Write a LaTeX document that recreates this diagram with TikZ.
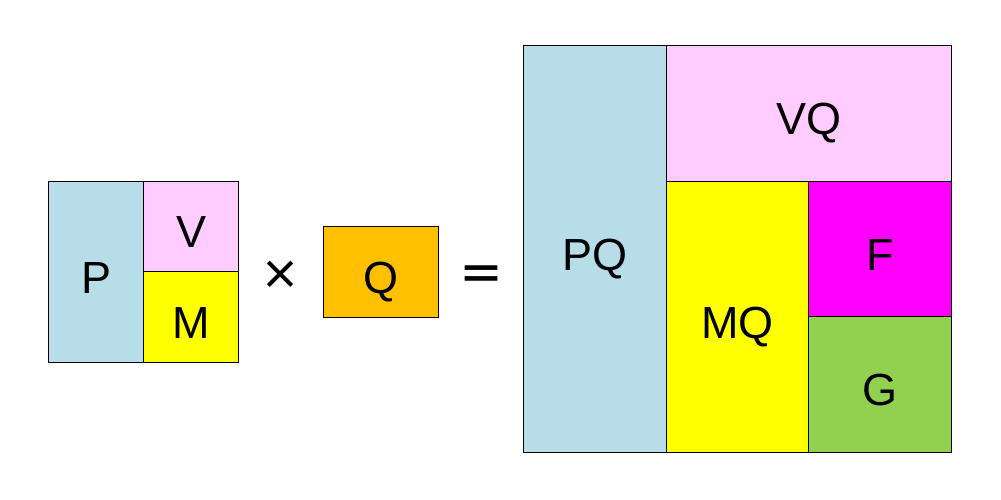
\documentclass[tikz,border=0pt]{standalone}
\usepackage{fontspec}
\setmainfont{Liberation Sans}
\newfontfamily\cjk{Noto Sans CJK JP}[BoldFont={* Bold}]
\definecolor{cblue}{HTML}{B7DEE8}
\definecolor{cpink}{HTML}{FFCCFF}
\definecolor{cyel}{HTML}{FFFF00}
\definecolor{corange}{HTML}{FFC000}
\definecolor{cmag}{HTML}{FF00FF}
\definecolor{cgreen}{HTML}{92D050}
\begin{document}
\begin{tikzpicture}[x=1pt,y=-1pt,
  cell/.style={draw=black,line width=1.1pt,inner sep=0pt,anchor=north west,
    text height=44pt,text depth=2pt,
    font=\fontsize{45}{45}\selectfont},
  sym/.style={inner sep=0pt,font=\fontsize{40}{40}\selectfont\cjk\bfseries}]
\useasboundingbox[fill=white] (0,0) rectangle (1001,499);
% left block
\node[cell,fill=cblue,minimum width=95pt,minimum height=181pt] (P) at (48,181) {P};
\node[cell,fill=cpink,minimum width=95pt,minimum height=90pt] (V) at (143,181) {V};
\node[cell,fill=cyel,minimum width=95pt,minimum height=91pt] (M) at (143,271) {M};
% operator and Q
\node[sym] (times) at (280,275) {×};
\node[cell,fill=corange,minimum width=115pt,minimum height=91pt] (Q) at (323,226) {Q};
\node[sym,font=\fontsize{46}{46}\selectfont\cjk\bfseries] (eq) at (481,279) {＝};
% right block
\node[cell,fill=cblue,minimum width=143pt,minimum height=407pt] (PQ) at (523,45) {PQ};
\node[cell,fill=cpink,minimum width=285pt,minimum height=136pt] (VQ) at (666,45) {VQ};
\node[cell,fill=cyel,minimum width=142pt,minimum height=271pt] (MQ) at (666,181) {MQ};
\node[cell,fill=cmag,minimum width=143pt,minimum height=135pt] (F) at (808,181) {F};
\node[cell,fill=cgreen,minimum width=143pt,minimum height=136pt] (G) at (808,316) {G};
\end{tikzpicture}
\end{document}
